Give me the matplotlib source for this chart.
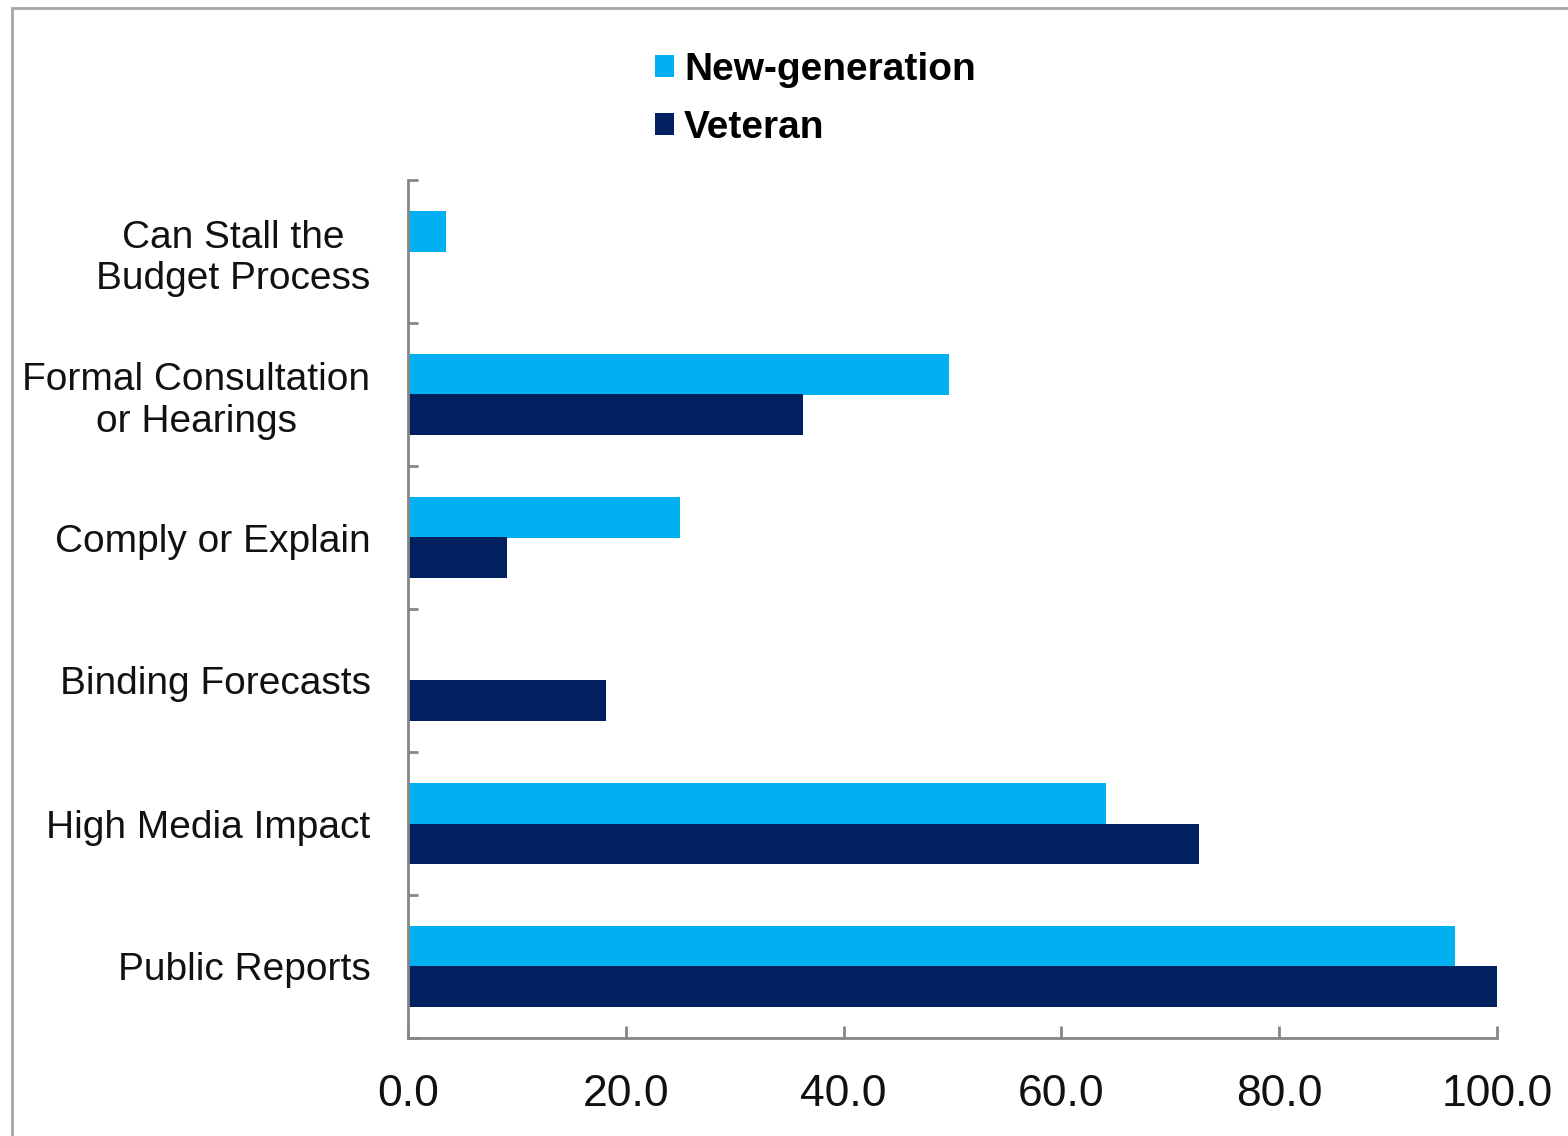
import numpy as np
import matplotlib
matplotlib.use('Agg')
import matplotlib.pyplot as plt
from matplotlib.patches import Rectangle
from matplotlib.ticker import FixedLocator

# data (top to bottom)
categories = ['Can Stall the\nBudget Process', 'Formal Consultation\nor Hearings',
              'Comply or Explain', 'Binding Forecasts', 'High Media Impact', 'Public Reports']
new_generation = [3.5, 49.7, 25.0, 0.0, 64.1, 96.1]
veteran = [0.0, 36.3, 9.1, 18.2, 72.6, 100.0]
x_ticks = [0, 20, 40, 60, 80, 100]

light_blue = '#00B0F0'
navy = '#002060'
axis_gray = '#868686'

plt.rcParams['font.family'] = ['Liberation Sans', 'DejaVu Sans']

fig = plt.figure(figsize=(15.68, 11.36), dpi=100)
ax = fig.add_axes([408/1568, 1 - 1038/1136, (1497-408)/1568, (1038-180)/1136])

n = len(categories)
pos = np.arange(n)[::-1]  # first category on top
h = 0.28
ax.barh(pos + h/2, new_generation, height=h, color=light_blue, label='New-generation')
ax.barh(pos - h/2, veteran, height=h, color=navy, label='Veteran')

ax.set_xlim(0, 100)
ax.set_ylim(-0.5, n - 0.5)
ax.set_xticks(x_ticks)
ax.set_xticklabels([f'{v:.1f}' for v in x_ticks], fontsize=32)
ax.set_yticks(pos)
ax.set_yticklabels(categories, fontsize=28, multialignment='center')
ax.yaxis.set_minor_locator(FixedLocator(np.arange(n + 1) - 0.5))

ax.tick_params(axis='y', which='major', length=0, pad=27, colors='#111111')
ax.tick_params(axis='y', which='minor', direction='in', length=7, width=2, color=axis_gray)
ax.tick_params(axis='x', direction='in', length=9, width=2, color=axis_gray, pad=26,
               labelcolor='#111111')

for s in ['top', 'right']:
    ax.spines[s].set_visible(False)
for s in ['left', 'bottom']:
    ax.spines[s].set_color(axis_gray)
    ax.spines[s].set_linewidth(2)

leg = fig.legend(loc='upper left', bbox_to_anchor=(620/1568, 1 - 17/1136), frameon=False,
                 prop={'size': 28, 'weight': 'bold'}, handlelength=0.5, handleheight=0.5,
                 handletextpad=0.25, labelspacing=0.56)

# outer frame of the exported chart
fig.patches.append(Rectangle((12/1568, -0.05), 1.2, 1.05 - 8/1136, transform=fig.transFigure,
                             fill=False, edgecolor='#A6A6A6', linewidth=2))

fig.savefig('out.png', dpi=100)
